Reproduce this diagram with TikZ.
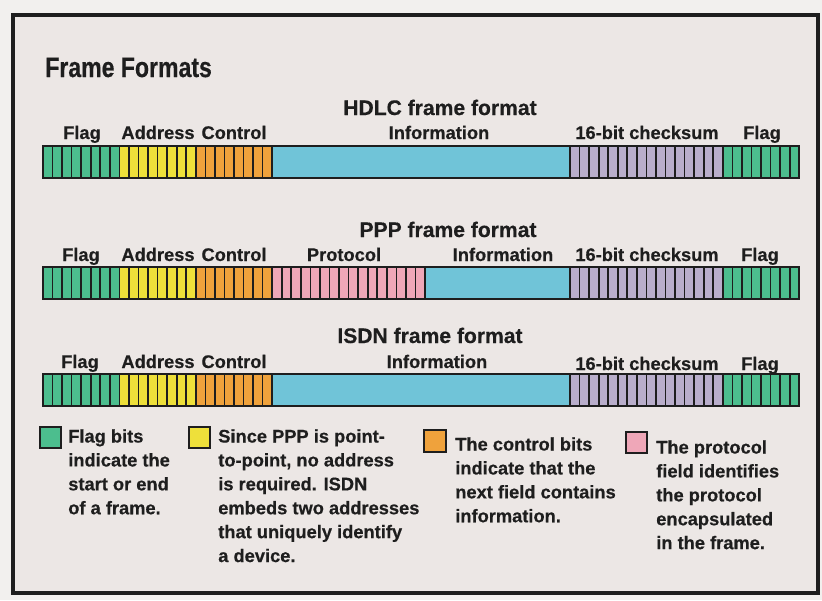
\documentclass[tikz,border=0pt]{standalone}
\usepackage{fontspec}
\setmainfont{Liberation Sans}[BoldFeatures={FakeBold=0.5}]
\newfontfamily\titlefont{Liberation Sans}[FakeStretch=0.82, BoldFeatures={FakeBold=0.5}]
\usetikzlibrary{positioning}

\definecolor{flaggreen}{HTML}{4CBE8E}
\definecolor{addryellow}{HTML}{EEE03A}
\definecolor{ctrlorange}{HTML}{EFA23C}
\definecolor{infoblue}{HTML}{70C4D8}
\definecolor{sumlilac}{HTML}{B9AECB}
\definecolor{protopink}{HTML}{EFA7B8}
\definecolor{paper}{HTML}{ECE7E5}
\definecolor{margin}{HTML}{F2F0EE}
\definecolor{ink}{HTML}{1E1E1E}

\tikzset{
  bitcell/.style={draw=ink, line width=1.2pt},
  barframe/.style={draw=ink, line width=1.5pt},
  fieldname/.style={font=\bfseries\fontsize{13}{15}\selectfont, text=ink, inner sep=0pt, anchor=base},
  heading/.style={font=\bfseries\fontsize{15}{18}\selectfont, text=ink, inner sep=0pt, anchor=base},
  legendbox/.style={draw=ink, line width=1.5pt},
  legendtext/.style={font=\bfseries\fontsize{13}{17}\selectfont, text=ink, inner sep=0pt, anchor=north west, align=left}
}

\newcommand\bitwidth{9.55}
% #1 top of bar, #2 left end, #3 number of bits, #4 colour
\newcommand\bitrun[4]{%
  \foreach \k in {1,...,#3}
    \draw[bitcell, fill=#4] ({#2+(\k-1)*\bitwidth}, #1) rectangle ++(\bitwidth, 32);
}

\begin{document}
\begin{tikzpicture}[x=0.025cm, y=-0.025cm]
    % Page and frame
    \fill[margin] (0,0) rectangle (822,600);
    \useasboundingbox (0,0) rectangle (822,600);
    \draw[ink, line width=2.8pt, fill=paper] (13,15) rectangle (818,593);

    \node[inner sep=0pt, anchor=base west, text=ink] (title) at (45,77)
        {\titlefont\bfseries\fontsize{20}{24}\selectfont Frame Formats};

    % HDLC frame
    \node[heading] (hdlc) at (440,115) {HDLC frame format};
    \node[fieldname] (hflag1) at (82,139) {Flag};
    \node[fieldname] (haddr) at (158,139) {Address};
    \node[fieldname] (hctrl) at (234,139) {Control};
    \node[fieldname] (hinfo) at (439,139) {Information};
    \node[fieldname] (hsum) at (647,139) {16-bit checksum};
    \node[fieldname] (hflag2) at (762,139) {Flag};
    \bitrun{146}{43}{8}{flaggreen}
    \bitrun{146}{119.4}{8}{addryellow}
    \bitrun{146}{195.8}{8}{ctrlorange}
    \draw[bitcell, fill=infoblue] (272.2,146) rectangle (570,178);
    \bitrun{146}{570}{16}{sumlilac}
    \bitrun{146}{722.8}{8}{flaggreen}
    \draw[barframe] (43,146) rectangle (799.2,178);

    % PPP frame
    \node[heading] (ppp) at (448,237) {PPP frame format};
    \node[fieldname] (pflag1) at (81,261) {Flag};
    \node[fieldname] (paddr) at (158,261) {Address};
    \node[fieldname] (pctrl) at (234,261) {Control};
    \node[fieldname] (pproto) at (344,261) {Protocol};
    \node[fieldname] (pinfo) at (503,261) {Information};
    \node[fieldname] (psum) at (647,261) {16-bit checksum};
    \node[fieldname] (pflag2) at (760,261) {Flag};
    \bitrun{267}{43}{8}{flaggreen}
    \bitrun{267}{119.4}{8}{addryellow}
    \bitrun{267}{195.8}{8}{ctrlorange}
    \bitrun{267}{272.2}{16}{protopink}
    \draw[bitcell, fill=infoblue] (425,267) rectangle (570,299);
    \bitrun{267}{570}{16}{sumlilac}
    \bitrun{267}{722.8}{8}{flaggreen}
    \draw[barframe] (43,267) rectangle (799.2,299);

    % ISDN frame
    \node[heading] (isdn) at (430,343) {ISDN frame format};
    \node[fieldname] (iflag1) at (80,368) {Flag};
    \node[fieldname] (iaddr) at (158,368) {Address};
    \node[fieldname] (ictrl) at (234,368) {Control};
    \node[fieldname] (iinfo) at (437,368) {Information};
    \node[fieldname] (isum) at (647,370) {16-bit checksum};
    \node[fieldname] (iflag2) at (760,370) {Flag};
    \bitrun{374}{43}{8}{flaggreen}
    \bitrun{374}{119.4}{8}{addryellow}
    \bitrun{374}{195.8}{8}{ctrlorange}
    \draw[bitcell, fill=infoblue] (272.2,374) rectangle (570,406);
    \bitrun{374}{570}{16}{sumlilac}
    \bitrun{374}{722.8}{8}{flaggreen}
    \draw[barframe] (43,374) rectangle (799.2,406);

    % Key
    \draw[legendbox, fill=flaggreen] (40,427) rectangle (61,448);
    \node[legendtext] (keyflag) at (68,429)
        {Flag bits\\indicate the\\start or end\\of a frame.};
    \draw[legendbox, fill=addryellow] (189,427) rectangle (210,448);
    \node[legendtext] (keyaddr) at (218,429)
        {Since PPP is point-\\to-point, no address\\is required. ISDN\\embeds two addresses\\that uniquely identify\\a device.};
    \draw[legendbox, fill=ctrlorange] (424,430) rectangle (446,452);
    \node[legendtext] (keyctrl) at (455,437)
        {The control bits\\indicate that the\\next field contains\\information.};
    \draw[legendbox, fill=protopink] (626,432) rectangle (647,453);
    \node[legendtext] (keyproto) at (656,440)
        {The protocol\\field identifies\\the protocol\\encapsulated\\in the frame.};
\end{tikzpicture}
\end{document}
